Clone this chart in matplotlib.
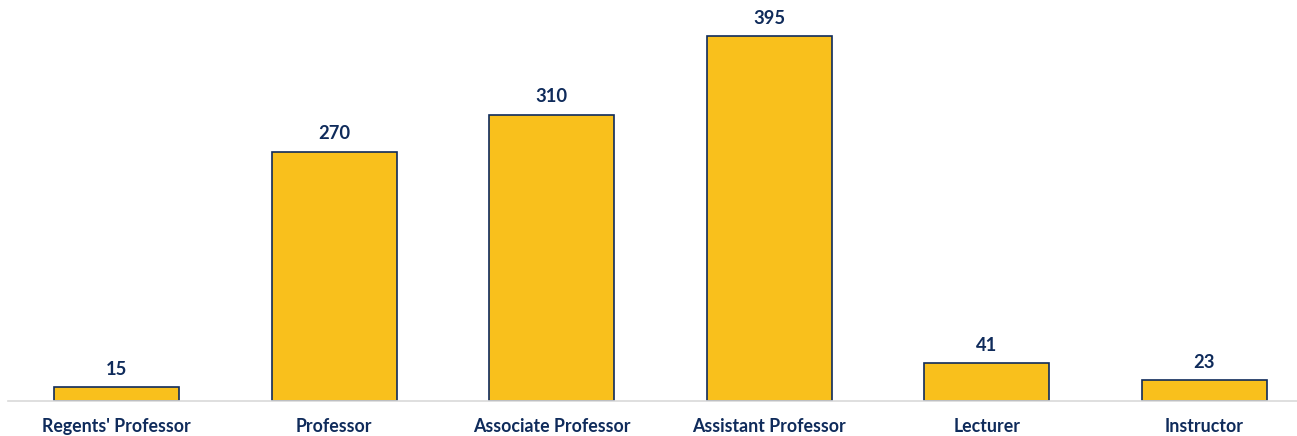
import matplotlib.pyplot as plt
import numpy as np

plt.switch_backend('Agg')

# faculty counts by rank
ranks = ["Regents' Professor", "Professor", "Associate Professor",
         "Assistant Professor", "Lecturer", "Instructor"]
counts = [15, 270, 310, 395, 41, 23]

navy = '#0f2b5b'
gold = '#f9c01c'

fig = plt.figure(figsize=(12.97, 4.36), dpi=100)
ax = fig.add_axes([8 / 1297, 35 / 436, 1 - 8 / 1297, 401 / 436])

x = np.arange(len(ranks))
bars = ax.bar(x, counts, width=0.575, color=gold, edgecolor=navy, linewidth=1.2, zorder=2)

for b, v in zip(bars, counts):
    ax.text(b.get_x() + b.get_width() / 2, v + 10, str(v), ha='center', va='bottom',
            fontsize=13.2, fontweight='bold', color=navy, family='Lato')

ax.set_xlim(-0.5, 5.426)
ax.set_ylim(0, 434)
ax.set_xticks(x)
ax.set_xticklabels(ranks, fontsize=12.8, fontweight='bold', color=navy, family='Lato')
ax.tick_params(axis='x', length=0, pad=12)
ax.set_yticks([])
for s in ['top', 'right', 'left']:
    ax.spines[s].set_visible(False)
ax.spines['bottom'].set_color('#d9d9d9')
ax.spines['bottom'].set_linewidth(1.2)

plt.savefig('out.png', dpi=100)
